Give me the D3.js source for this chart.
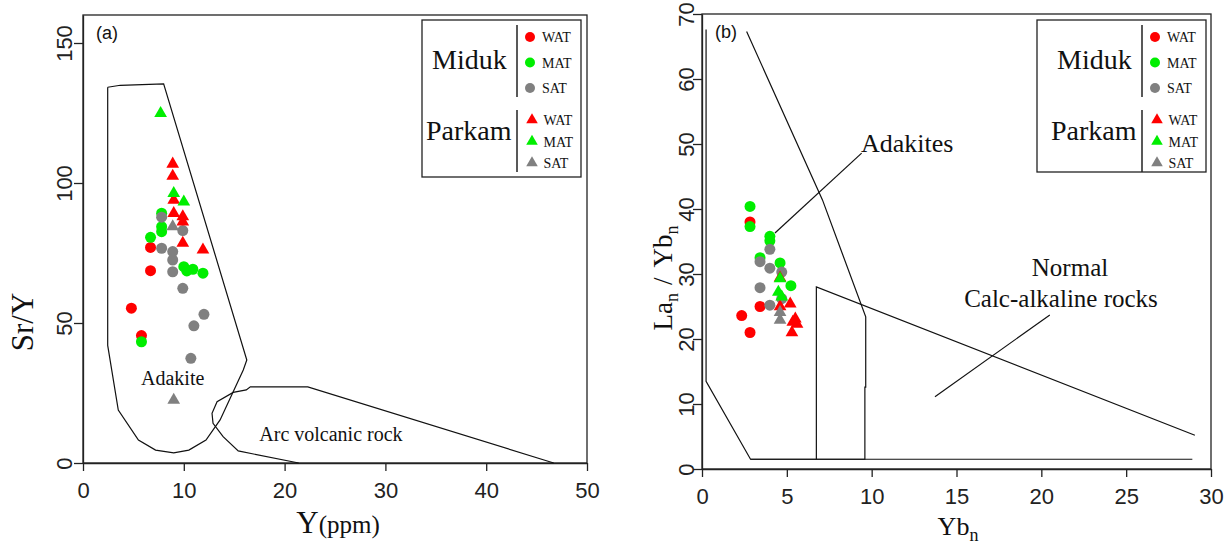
<!DOCTYPE html>
<html><head><meta charset="utf-8">
<script src="https://cdn.jsdelivr.net/npm/d3@7"></script>
<style>
body{margin:0;background:#fff;}
svg{display:block;}
</style></head>
<body><svg id="chart" width="1230" height="545"></svg>
<script>
// ---------- Panel (a): Sr/Y versus Y (ppm) ----------
const aMidukWAT  = [[6.7,77.0],[6.7,68.7],[4.8,55.3],[5.8,45.5]];
const aMidukMAT  = [[7.8,89.2],[7.8,84.4],[7.8,82.6],[6.7,80.6],[10.0,70.1],[10.3,68.6],[10.9,69.2],[11.9,67.8],[5.8,43.3]];
const aMidukSAT  = [[7.8,87.8],[9.9,83.0],[7.8,76.7],[8.9,75.5],[8.9,72.5],[8.9,68.3],[9.9,62.4],[12.0,53.1],[11.0,49.0],[10.7,37.4]];
const aParkamWAT = [[8.9,106.8],[8.9,102.5],[9.0,93.9],[9.0,89.2],[9.9,88.0],[9.9,86.1],[9.9,78.5],[11.9,76.1]];
const aParkamMAT = [[7.7,124.9],[9.0,96.3],[10.0,93.3]];
const aParkamSAT = [[8.9,84.4],[9.0,22.5]];

// field outlines (Y, Sr/Y)
const aAdakiteField = [[2.45,134.2],[3.7,134.9],[8.0,135.4],[16.25,36.8],[15.9,33.2],[13.6,15.4],[12.2,8.2],[10.5,4.6],[9.0,3.6],[7.2,4.6],[5.5,8.2],[3.5,18.9],[2.45,42],[2.45,134.2]];
const aArcField = [[21.4,0],[15.4,4.3],[13.9,9.4],[12.9,14.2],[12.8,17.75],[13.3,21.9],[14.9,25.2],[16.2,26.1],[16.6,27.2],[22.3,27.2],[46.7,0]];

const aXTicks = [0,10,20,30,40,50];
const aYTicks = [0,50,100,150];

// ---------- Panel (b): La_n/Yb_n versus Yb_n ----------
const bMidukWAT  = [[2.83,38.0],[3.42,25.0],[2.34,23.6],[2.83,21.0]];
const bMidukMAT  = [[2.83,40.4],[2.83,37.3],[4.0,35.8],[4.0,35.1],[3.42,32.5],[4.6,31.7],[5.24,28.2]];
const bMidukSAT  = [[4.0,33.8],[3.42,31.9],[4.0,30.9],[4.7,30.3],[3.42,27.9],[4.0,25.2],[4.7,26.2]];
const bParkamWAT = [[4.6,29.4],[4.6,25.0],[5.2,25.4],[5.5,23.1],[5.35,22.6],[5.6,22.3],[5.3,21.0]];
const bParkamMAT = [[4.6,29.3],[4.5,27.2],[4.7,26.5]];
const bParkamSAT = [[4.6,24.1],[4.6,22.9]];

const bAdakiteField = [[0.24,67.6],[0.24,13.5],[2.86,1.5],[9.6,1.5],[9.6,12.6],[9.65,12.6],[9.65,23.4],[7.1,41.4],[2.63,67.3]];
const bBaseLine = [[2.86,1.5],[28.9,1.5]];
const bCalcField = [[6.74,1.5],[6.74,28.0],[29.05,5.2]];
const bAdakiteLeader = [[9.41,48.6],[4.3,36.3]];
const bCalcLeader = [[13.73,11.1],[20.5,23.7]];

const bXTicks = [0,5,10,15,20,25,30];
const bYTicks = [0,10,20,30,40,50,60,70];

// ---------- shared styling ----------
const RED = "#ff0000", GREEN = "#00ee00", GRAY = "#808080";
const SERIF = "'Liberation Serif','Times New Roman',serif";
const SANS = "'Liberation Sans',Arial,sans-serif";
const NARROW = "'Liberation Sans Narrow','Arial Narrow',sans-serif";

const svg = d3.select("#chart");

function drawPanel(cfg) {
  const x = d3.scaleLinear().domain(cfg.xDomain).range(cfg.xRange);
  const y = d3.scaleLinear().domain(cfg.yDomain).range(cfg.yRange);
  const g = svg.append("g");
  const line = d3.line().x(d => x(d[0])).y(d => y(d[1]));

  // frame
  g.append("rect")
    .attr("x", cfg.xRange[0]).attr("y", cfg.yRange[1])
    .attr("width", cfg.xRange[1] - cfg.xRange[0])
    .attr("height", cfg.yRange[0] - cfg.yRange[1])
    .attr("fill", "none").attr("stroke", "#222").attr("stroke-width", 1.3);

  // x axis
  const xa = g.append("g").attr("transform", `translate(0,${cfg.yRange[0]})`)
    .call(d3.axisBottom(x).tickValues(cfg.xTicks).tickSize(8).tickSizeOuter(0).tickPadding(11));
  xa.select(".domain").attr("stroke", "#222").attr("stroke-width", 1.3);
  xa.selectAll(".tick line").attr("stroke", "#222").attr("stroke-width", 1.3);
  xa.selectAll(".tick text").attr("font-family", NARROW).attr("font-size", 22).attr("fill", "#222");

  // y axis with rotated labels
  const ya = g.append("g").attr("transform", `translate(${cfg.xRange[0]},0)`)
    .call(d3.axisLeft(y).tickValues(cfg.yTicks).tickSize(9).tickSizeOuter(0));
  ya.select(".domain").attr("stroke", "#222").attr("stroke-width", 1.3);
  ya.selectAll(".tick line").attr("stroke", "#222").attr("stroke-width", 1.3);
  ya.selectAll(".tick text")
    .attr("x", null).attr("dy", null).attr("y", null)
    .attr("text-anchor", "middle")
    .attr("transform", `translate(${cfg.yLabelOffset},0) rotate(-90)`)
    .attr("font-family", NARROW).attr("font-size", 22).attr("fill", "#222");

  // fields
  cfg.outlines.forEach(o => {
    g.append("path").datum(o).attr("d", line)
      .attr("fill", "none").attr("stroke", "#111").attr("stroke-width", 1.2);
  });

  // samples
  const tri = d3.symbol().type(d3.symbolTriangle).size(70);
  cfg.series.forEach(s => {
    if (s.shape === "circle") {
      g.selectAll(null).data(s.data).enter().append("circle")
        .attr("cx", d => x(d[0])).attr("cy", d => y(d[1])).attr("r", 5.5)
        .attr("fill", s.color);
    } else {
      g.selectAll(null).data(s.data).enter().append("path")
        .attr("d", tri)
        .attr("transform", d => `translate(${x(d[0])},${y(d[1])})`)
        .attr("fill", s.color);
    }
  });

  // panel tag
  g.append("text").attr("x", cfg.xRange[0] + 13).attr("y", cfg.yRange[1] + 24)
    .attr("font-family", SANS).attr("font-size", 18).attr("fill", "#111").text(cfg.tag);

  return {g, x, y};
}

function drawLegend(g, left, top, right, bottom) {
  g.append("rect").attr("x", left).attr("y", top)
    .attr("width", right - left).attr("height", bottom - top)
    .attr("fill", "#fff").attr("stroke", "#222").attr("stroke-width", 1.3);
  const groups = [
    {name: "Miduk", shape: "circle", nameX: right - 149, nameY: 69, sepTop: 25, sepBot: 97, rows: [37, 62.5, 88]},
    {name: "Parkam", shape: "triangle", nameX: right - 155, nameY: 140, sepTop: 110, sepBot: 172, rows: [120, 141.5, 163]}
  ];
  const labels = ["WAT", "MAT", "SAT"];
  const colors = [RED, GREEN, GRAY];
  const tri = d3.symbol().type(d3.symbolTriangle).size(58);
  groups.forEach(gr => {
    g.append("text").attr("x", gr.nameX).attr("y", gr.nameY)
      .attr("font-family", SERIF).attr("font-size", 28).attr("fill", "#111").text(gr.name);
    g.append("line").attr("x1", right - 64).attr("x2", right - 64)
      .attr("y1", gr.sepTop).attr("y2", gr.sepBot)
      .attr("stroke", "#222").attr("stroke-width", 1.5);
    gr.rows.forEach((ry, i) => {
      const mx = right - 51 + (gr.shape === "triangle" ? 2 : 0);
      if (gr.shape === "circle") {
        g.append("circle").attr("cx", mx).attr("cy", ry).attr("r", 5).attr("fill", colors[i]);
      } else {
        g.append("path").attr("d", tri).attr("transform", `translate(${mx},${ry})`).attr("fill", colors[i]);
      }
      g.append("text").attr("x", right - 39 + (gr.shape === "triangle" ? 1.5 : 0)).attr("y", ry + 5)
        .attr("font-family", SERIF).attr("font-size", 14).attr("fill", "#111").text(labels[i]);
    });
  });
}

// ---------- panel (a) ----------
const A = drawPanel({
  xDomain: [0, 50], xRange: [83, 587],
  yDomain: [0, 160], yRange: [463, 15],
  xTicks: aXTicks, yTicks: aYTicks, yLabelOffset: -11, tag: "(a)",
  outlines: [aAdakiteField, aArcField],
  series: [
    {data: aMidukWAT, color: RED, shape: "circle"},
    {data: aMidukMAT, color: GREEN, shape: "circle"},
    {data: aMidukSAT, color: GRAY, shape: "circle"},
    {data: aParkamWAT, color: RED, shape: "triangle"},
    {data: aParkamMAT, color: GREEN, shape: "triangle"},
    {data: aParkamSAT, color: GRAY, shape: "triangle"}
  ]
});
A.g.append("text").attr("x", A.x(8.9)).attr("y", A.y(27.9)).attr("text-anchor", "middle")
  .attr("font-family", SERIF).attr("font-size", 20).attr("fill", "#111").text("Adakite");
A.g.append("text").attr("x", A.x(24.6)).attr("y", A.y(7.9)).attr("text-anchor", "middle")
  .attr("font-family", SERIF).attr("font-size", 20).attr("fill", "#111").text("Arc volcanic rock");
drawLegend(A.g, 422, 20, 581, 177);

// axis titles (a)
svg.append("text").attr("transform", "translate(33,322) rotate(-90)").attr("text-anchor", "middle")
  .attr("font-family", SERIF).attr("font-size", 31).attr("fill", "#111").text("Sr/Y");
const at = svg.append("text").attr("x", 338).attr("y", 533).attr("text-anchor", "middle")
  .attr("font-family", SERIF).attr("fill", "#111");
at.append("tspan").attr("font-size", 31).text("Y");
at.append("tspan").attr("font-size", 25).text("(ppm)");

// ---------- panel (b) ----------
const B = drawPanel({
  xDomain: [0, 30], xRange: [702, 1211],
  yDomain: [0, 70], yRange: [469, 14],
  xTicks: bXTicks, yTicks: bYTicks, yLabelOffset: -8, tag: "(b)",
  outlines: [bAdakiteField, bBaseLine, bCalcField, bAdakiteLeader, bCalcLeader],
  series: [
    {data: bMidukWAT, color: RED, shape: "circle"},
    {data: bMidukMAT, color: GREEN, shape: "circle"},
    {data: bMidukSAT, color: GRAY, shape: "circle"},
    {data: bParkamWAT, color: RED, shape: "triangle"},
    {data: bParkamMAT, color: GREEN, shape: "triangle"},
    {data: bParkamSAT, color: GRAY, shape: "triangle"}
  ]
});
B.g.append("text").attr("x", 861).attr("y", 152)
  .attr("font-family", SERIF).attr("font-size", 26).attr("fill", "#111").text("Adakites");
B.g.append("text").attr("x", 1070).attr("y", 276).attr("text-anchor", "middle")
  .attr("font-family", SERIF).attr("font-size", 25).attr("fill", "#111").text("Normal");
B.g.append("text").attr("x", 1061).attr("y", 307).attr("text-anchor", "middle")
  .attr("font-family", SERIF).attr("font-size", 25).attr("fill", "#111").text("Calc-alkaline rocks");
drawLegend(B.g, 1037, 20, 1206, 172);

// axis titles (b)
const bt = svg.append("text").attr("transform", "translate(672,278) rotate(-90)").attr("text-anchor", "middle")
  .attr("font-family", SERIF).attr("font-size", 27).attr("fill", "#111");
bt.append("tspan").text("La");
bt.append("tspan").attr("font-size", 18).attr("dy", 6).text("n");
bt.append("tspan").attr("dy", -6).attr("dx", 8).text("/");
bt.append("tspan").attr("dx", 10).text("Yb");
bt.append("tspan").attr("font-size", 18).attr("dy", 6).text("n");
const bx = svg.append("text").attr("x", 958).attr("y", 535).attr("text-anchor", "middle")
  .attr("font-family", SERIF).attr("font-size", 26).attr("fill", "#111");
bx.append("tspan").text("Yb");
bx.append("tspan").attr("font-size", 18).attr("dy", 6).text("n");
</script>
</body></html>
